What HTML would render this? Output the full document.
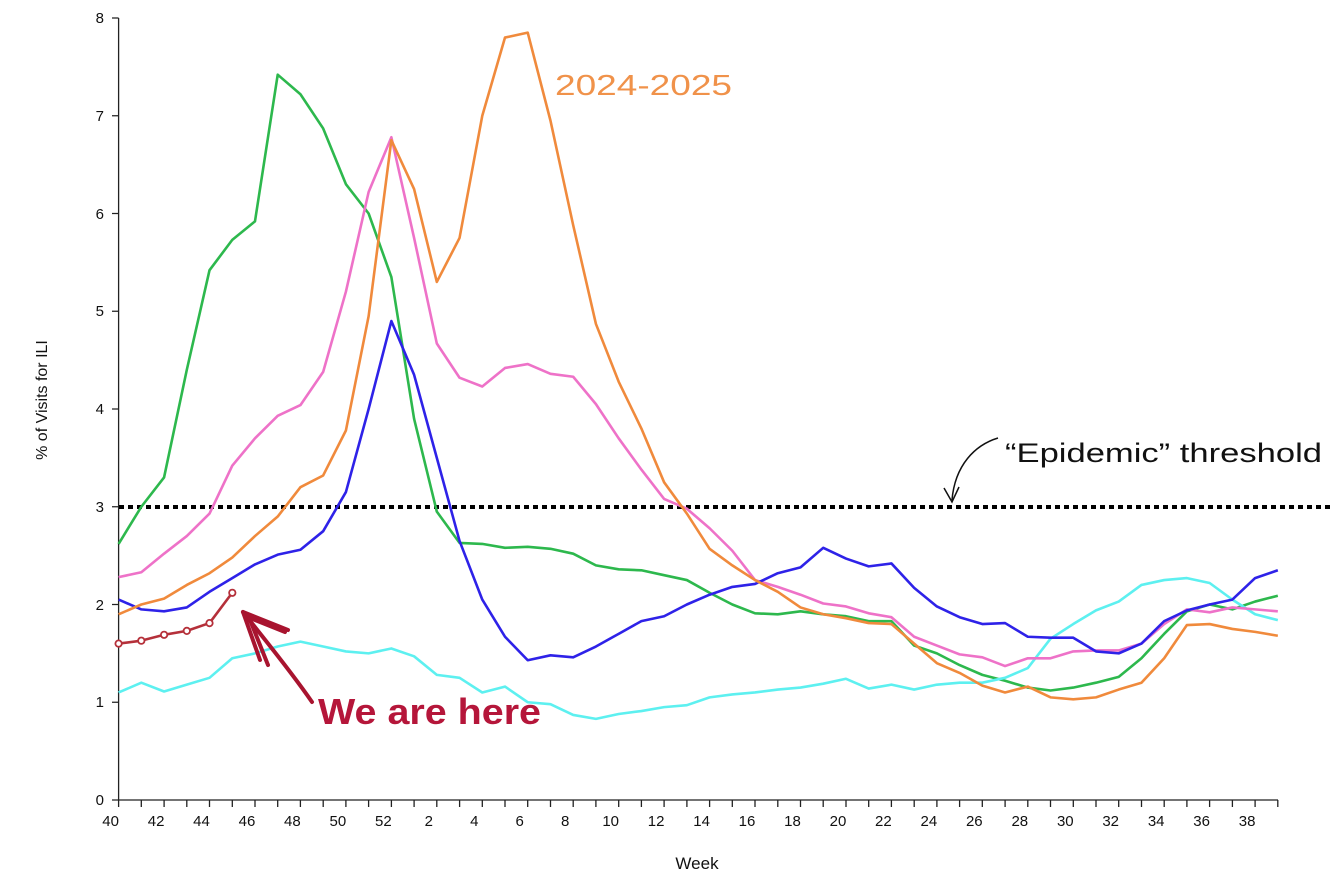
<!DOCTYPE html>
<html><head><style>body{margin:0;background:#fff}svg{display:block}</style></head><body>
<svg width="1332" height="892" viewBox="0 0 1332 892" xmlns="http://www.w3.org/2000/svg" font-family="Liberation Sans, Arial, sans-serif">
<g stroke="#222" stroke-width="1.3" fill="none">
<line x1="118.6" y1="18" x2="118.6" y2="800"/>
<line x1="118.6" y1="800" x2="1278" y2="800"/>
<path d="M118.6 800v7M141.3 800v7M164.1 800v7M186.8 800v7M209.5 800v7M232.3 800v7M255 800v7M277.7 800v7M300.4 800v7M323.2 800v7M345.9 800v7M368.6 800v7M391.4 800v7M414.1 800v7M436.8 800v7M459.6 800v7M482.3 800v7M505 800v7M527.7 800v7M550.5 800v7M573.2 800v7M595.9 800v7M618.7 800v7M641.4 800v7M664.1 800v7M686.9 800v7M709.6 800v7M732.3 800v7M755 800v7M777.8 800v7M800.5 800v7M823.2 800v7M846 800v7M868.7 800v7M891.4 800v7M914.2 800v7M936.9 800v7M959.6 800v7M982.3 800v7M1005.1 800v7M1027.8 800v7M1050.5 800v7M1073.3 800v7M1096 800v7M1118.7 800v7M1141.5 800v7M1164.2 800v7M1186.9 800v7M1209.6 800v7M1232.4 800v7M1255.1 800v7M1277.8 800v7"/>
<path d="M112 800h6.6M112 702.25h6.6M112 604.5h6.6M112 506.75h6.6M112 409h6.6M112 311.25h6.6M112 213.5h6.6M112 115.75h6.6M112 18h6.6"/>
</g>
<g font-size="15" fill="#111" text-anchor="end">
<text x="104" y="805">0</text><text x="104" y="707">1</text><text x="104" y="610">2</text><text x="104" y="512">3</text><text x="104" y="414">4</text><text x="104" y="316">5</text><text x="104" y="219">6</text><text x="104" y="121">7</text><text x="104" y="23">8</text>
</g>
<g font-size="15" fill="#111" text-anchor="middle">
<text x="110.6" y="826">40</text><text x="156.1" y="826">42</text><text x="201.5" y="826">44</text><text x="247" y="826">46</text><text x="292.4" y="826">48</text><text x="337.9" y="826">50</text><text x="383.4" y="826">52</text><text x="428.8" y="826">2</text><text x="474.3" y="826">4</text><text x="519.7" y="826">6</text><text x="565.2" y="826">8</text><text x="610.7" y="826">10</text><text x="656.1" y="826">12</text><text x="701.6" y="826">14</text><text x="747" y="826">16</text><text x="792.5" y="826">18</text><text x="838" y="826">20</text><text x="883.4" y="826">22</text><text x="928.9" y="826">24</text><text x="974.3" y="826">26</text><text x="1019.8" y="826">28</text><text x="1065.3" y="826">30</text><text x="1110.7" y="826">32</text><text x="1156.2" y="826">34</text><text x="1201.6" y="826">36</text><text x="1247.1" y="826">38</text>
</g>
<text x="697" y="869" font-size="17" text-anchor="middle" fill="#111">Week</text>
<text transform="translate(47,400) rotate(-90)" font-size="16" text-anchor="middle" fill="#111">% of Visits for ILI</text>
<line x1="119" y1="507" x2="1332" y2="507" stroke="#000" stroke-width="4" stroke-dasharray="5,4"/>
<g fill="none" stroke-width="2.6" stroke-linejoin="round" transform="translate(118.6,800) scale(22.73,-97.75)">
<polyline vector-effect="non-scaling-stroke" stroke="#2db84d" points="0,2.62 1,3.0 2,3.3 3,4.4 4,5.42 5,5.73 6,5.92 7,7.42 8,7.22 9,6.87 10,6.3 11,6.0 12,5.35 13,3.9 14,2.95 15,2.63 16,2.62 17,2.58 18,2.59 19,2.57 20,2.52 21,2.4 22,2.36 23,2.35 24,2.3 25,2.25 26,2.12 27,2.0 28,1.91 29,1.9 30,1.93 31,1.9 32,1.88 33,1.83 34,1.83 35,1.58 36,1.5 37,1.38 38,1.28 39,1.22 40,1.15 41,1.12 42,1.15 43,1.2 44,1.26 45,1.45 46,1.7 47,1.93 48,2.0 49,1.95 50,2.03 51,2.09"/>
<polyline vector-effect="non-scaling-stroke" stroke="#5df0f0" points="0,1.1 1,1.2 2,1.11 3,1.18 4,1.25 5,1.45 6,1.5 7,1.57 8,1.62 9,1.57 10,1.52 11,1.5 12,1.55 13,1.47 14,1.28 15,1.25 16,1.1 17,1.16 18,1.0 19,0.98 20,0.87 21,0.83 22,0.88 23,0.91 24,0.95 25,0.97 26,1.05 27,1.08 28,1.1 29,1.13 30,1.15 31,1.19 32,1.24 33,1.14 34,1.18 35,1.13 36,1.18 37,1.2 38,1.2 39,1.25 40,1.35 41,1.65 42,1.8 43,1.94 44,2.03 45,2.2 46,2.25 47,2.27 48,2.22 49,2.05 50,1.9 51,1.84"/>
<polyline vector-effect="non-scaling-stroke" stroke="#ee72c8" points="0,2.28 1,2.33 2,2.52 3,2.7 4,2.93 5,3.42 6,3.7 7,3.93 8,4.04 9,4.38 10,5.2 11,6.22 12,6.78 13,5.75 14,4.67 15,4.32 16,4.23 17,4.42 18,4.46 19,4.36 20,4.33 21,4.05 22,3.7 23,3.38 24,3.08 25,2.98 26,2.78 27,2.55 28,2.25 29,2.18 30,2.1 31,2.01 32,1.98 33,1.91 34,1.87 35,1.67 36,1.58 37,1.49 38,1.46 39,1.37 40,1.45 41,1.45 42,1.52 43,1.53 44,1.53 45,1.6 46,1.8 47,1.95 48,1.92 49,1.97 50,1.95 51,1.93"/>
<polyline vector-effect="non-scaling-stroke" stroke="#2e22e8" points="0,2.05 1,1.95 2,1.93 3,1.97 4,2.13 5,2.27 6,2.41 7,2.51 8,2.56 9,2.75 10,3.15 11,4.0 12,4.9 13,4.35 14,3.5 15,2.65 16,2.05 17,1.67 18,1.43 19,1.48 20,1.46 21,1.57 22,1.7 23,1.83 24,1.88 25,2.0 26,2.1 27,2.18 28,2.21 29,2.32 30,2.38 31,2.58 32,2.47 33,2.39 34,2.42 35,2.17 36,1.98 37,1.87 38,1.8 39,1.81 40,1.67 41,1.66 42,1.66 43,1.52 44,1.5 45,1.6 46,1.83 47,1.94 48,2.0 49,2.05 50,2.27 51,2.35"/>
<polyline vector-effect="non-scaling-stroke" stroke="#f08a3c" points="0,1.9 1,2.0 2,2.06 3,2.2 4,2.32 5,2.48 6,2.7 7,2.9 8,3.2 9,3.32 10,3.78 11,4.95 12,6.75 13,6.25 14,5.3 15,5.75 16,7.0 17,7.8 18,7.85 19,6.95 20,5.88 21,4.87 22,4.28 23,3.8 24,3.25 25,2.93 26,2.57 27,2.4 28,2.25 29,2.13 30,1.97 31,1.9 32,1.86 33,1.81 34,1.8 35,1.6 36,1.4 37,1.3 38,1.17 39,1.1 40,1.16 41,1.05 42,1.03 43,1.05 44,1.13 45,1.2 46,1.45 47,1.79 48,1.8 49,1.75 50,1.72 51,1.68"/>
<polyline vector-effect="non-scaling-stroke" stroke="#b5303a" points="0,1.6 1,1.63 2,1.69 3,1.73 4,1.81 5,2.12"/>
</g>
<g fill="#fff" stroke="#b5303a" stroke-width="1.8">
<circle cx="118.6" cy="643.6" r="3.2"/><circle cx="141.3" cy="640.7" r="3.2"/><circle cx="164.1" cy="634.8" r="3.2"/><circle cx="186.8" cy="630.9" r="3.2"/><circle cx="209.5" cy="623.1" r="3.2"/><circle cx="232.3" cy="592.8" r="3.2"/>
</g>
<text x="555" y="95" font-size="29" fill="#f0924a" textLength="177" lengthAdjust="spacingAndGlyphs">2024-2025</text>
<text x="1005" y="462" font-size="27" fill="#111" textLength="317" lengthAdjust="spacingAndGlyphs">“Epidemic” threshold</text>
<path d="M998 438 C975 445 955 465 952 500" stroke="#111" stroke-width="1.5" fill="none"/>
<path d="M944 488 L952 502 L959 487" stroke="#111" stroke-width="1.5" fill="none"/>
<text x="318" y="724" font-size="36" font-weight="bold" fill="#b5163a" textLength="223" lengthAdjust="spacingAndGlyphs">We are here</text>
<g stroke="#a8142f" stroke-width="4" fill="none" stroke-linecap="round">
<path d="M312 702 C290 670 265 640 243 612"/>
<path d="M243 612 L288 630"/><path d="M243 612 L260 660"/><path d="M250 620 L268 665"/><path d="M250 618 L285 632"/>
</g>
</svg>
</body></html>
